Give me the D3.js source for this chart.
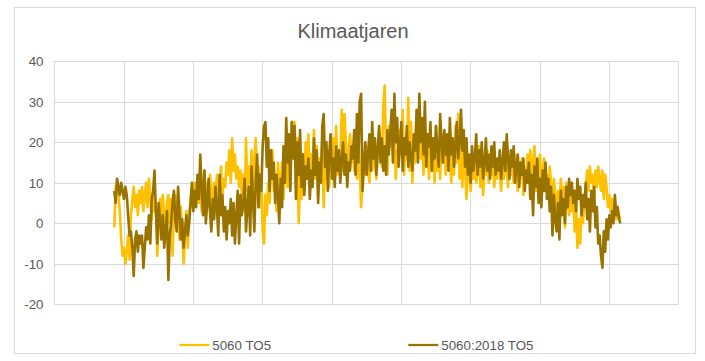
<!DOCTYPE html>
<html>
<head>
<meta charset="utf-8">
<script src="https://cdn.jsdelivr.net/npm/d3@7"></script>
<style>
  body { margin: 0; background: #fff; }
  svg { font-family: "Liberation Sans", Arial, sans-serif; }
</style>
</head>
<body>
<svg id="canvas" width="705" height="361"></svg>
<script>
// daily values, one per day
let seriesNames = ['5060 TO5', '5060:2018 TO5'];
let seriesColors = ['#ffc000', '#997300'];
let yTicks = [-20, -10, 0, 10, 20, 30, 40];
let firstDay = 43.26;

let gold = [
  -1, 9, 10, 7, 3, -4, -8, -6, -10, -7,
  -3, -9, 2, 6, 9, 4, 7, 2, 8, 5,
  9, 3, 7, 10, 4, 11, 6, 1, 8, 3,
  5, -8, 0, 6, -3, 7, 2, -1, 5, 7,
  0, 6, -8, 3, 7, 1, 5, -4, 4, -2,
  -10, -3, 3, -6, 2, 6, 9, 4, 10, 7,
  11, 5, 9, 3, 8, 13, 6, 10, 4, 12,
  8, 2, 10, 6, 12, 5, 9, 14, 7, 11,
  9, 15, 12, 18, 10, 21, 13, 17, 11, 14,
  9, 13, 7, 12, 3, 21, 8, 14, 10, 18,
  5, 16, 21, 9, 14, 4, 12, -2, -5, 7,
  2, 10, 5, 14, 18, 8, 12, 3, 15, 10,
  8, 15, 6, 13, 20, 9, 16, 11, 25, 18,
  25, 14, 21, 0, 12, 6, 17, 8, 20, 13,
  22, 10, 17, 14, 23, 11, 19, 7, 16, 12,
  20, 4, 15, 11, 18, 9, 22, 13, 21, 15,
  24, 12, 18, 15, 28, 13, 27, 20, 12, 18,
  22, 15, 19, 13, 17, 11, 20, 14, 4, 10,
  16, 12, 19, 14, 10, 17, 13, 20, 15, 11,
  18, 23, 20, 14, 29, 34, 17, 12, 24, 19,
  26, 15, 22, 11, 18, 14, 23, 17, 28, 12,
  20, 16, 31, 13, 25, 10, 20, 15, 26, 18,
  24, 16, 21, 12, 23, 15, 19, 11, 22, 14,
  20, 10, 24, 13, 18, 11, 22, 15, 19, 12,
  21, 14, 17, 10, 20, 12, 24, 15, 27, 11,
  26, 9, 18, 14, 6, 16, 12, 8, 15, 11,
  17, 10, 13, 19, 9, 15, 7, 14, 12, 18,
  10, 15, 12, 17, 9, 14, 11, 16, 13, 8,
  15, 11, 18, 13, 9, 16, 12, 14, 10, 17,
  12, 8, 15, 11, 16, 7, 14, 10, 17, 12,
  18, 10, 15, 19, 8, 14, 11, 17, 7, 13,
  16, 9, 12, 6, 14, 10, 4, 11, 7, 2,
  8, 3, 11, 5, 9, -1, 10, 6, 2, 8,
  3, 7, -2, 5, -6, 1, -5, 4, 0, 6,
  9, 13, 8, 14, 10, 12, 7, 13, 9, 14,
  11, 8, 13, 6, 12, 9, 4, 7, 3, 6,
  2, 5, 1, 4, 2, 1
];

let dark = [
  8, 5, 11, 9, 7, 10, 8, 6, 9, 7,
  2, -3, -2, -6, -13, -4, -2, -7, -3, -5,
  -3, -11, -6, -1, -4, 2, -5, 6, 8, 13,
  3, -5, 5, 1, -4, 2, -6, -2, 3, -14,
  -3, 0, 5, 8, 1, -2, 9, 3, -4, 1,
  -6, -2, 2, -3, 0, 5, 10, 3, 8, 4,
  12, 6, 17, 9, 2, 13, 0, 5, 11, 3,
  -2, 6, 1, 9, 4, -3, 12, 2, 7, -2,
  4, -4, 3, 0, 6, -3, 5, -5, 2, 8,
  -5, 7, 2, 5, 11, -2, 4, 9, -3, 14,
  6, -2, 10, 17, 4, 12, 8, 19, 24, 25,
  14, 21, 8, 18, 11, 15, 5, 12, 7, 0,
  11, 4, 19, 10, 26, 15, 22, 8, 25, 16,
  24, 6, 20, 12, 23, 9, 17, 7, 14, 11,
  16, 6, 13, 9, 21, 12, 18, 5, 15, 10,
  24, 27, 14, 20, 8, 17, 22, 11, 16, 9,
  19, 13, 18, 10, 16, 20, 12, 17, 9, 15,
  13, 19, 16, 23, 12, 27, 15, 30, 32, 8,
  14, 20, 12, 17, 22, 13, 25, 16, 21, 12,
  18, 24, 15, 21, 13, 19, 12, 23, 17, 22,
  28, 15, 32, 20, 26, 14, 19, 25, 13, 21,
  17, 24, 14, 20, 16, 13, 22, 18, 28, 15,
  32, 20, 26, 17, 30, 14, 22, 19, 25, 13,
  21, 16, 24, 18, 14, 27, 20, 15, 23, 17,
  22, 13, 26, 17, 21, 14, 19, 25, 16, 20,
  28, 18, 23, 14, 21, 12, 17, 10, 19, 13,
  16, 22, 12, 18, 14, 20, 11, 15, 21, 13,
  17, 11, 19, 14, 20, 12, 16, 13, 18, 11,
  15, 20, 13, 22, 16, 11, 18, 14, 19, 10,
  14, 17, 9, 15, 12, 16, 8, 13, 10, 15,
  6, 12, 2, 14, 9, 16, 5, 11, 4, 13,
  8, 15, 6, 11, 3, 9, -3, 7, 1, -2,
  5, -4, 8, 2, 6, 0, 9, 4, 11, 7,
  10, 5, 8, 3, 11, 6, 9, 2, 7, 4,
  10, 1, 6, -2, 8, 3, 9, -1, 4, -5,
  -3, -8, -11, -2, -7, 1, -4, 2, -1, 3,
  0, 7, 2, 4, 1, 0
];

let canvas = d3.select('#canvas');

// chart border
canvas.append('rect')
      .attr('x', 14.5).attr('y', 7.5)
      .attr('width', 681).attr('height', 346)
      .attr('fill', '#fff')
      .attr('stroke', '#d9d9d9');

canvas.append('text')
      .attr('x', 353).attr('y', 38.3)
      .attr('text-anchor', 'middle')
      .attr('font-size', '20px')
      .attr('fill', '#595959')
      .text('Klimaatjaren');

let xScale = d3.scaleLinear().domain([0, 450]).range([54.3, 678.3]);
let yScale = d3.scaleLinear().domain([-20, 40]).range([304.3, 61.3]);

// horizontal gridlines + labels
canvas.append('g')
      .selectAll('line')
      .data(yTicks)
      .enter()
      .append('line')
      .attr('x1', xScale(0)).attr('x2', xScale(450))
      .attr('y1', d => Math.round(yScale(d)) + 0.5)
      .attr('y2', d => Math.round(yScale(d)) + 0.5)
      .attr('stroke', '#d9d9d9');

canvas.append('g')
      .selectAll('line')
      .data(d3.range(0, 451, 50))
      .enter()
      .append('line')
      .attr('x1', d => Math.round(xScale(d)) + 0.5)
      .attr('x2', d => Math.round(xScale(d)) + 0.5)
      .attr('y1', yScale(40)).attr('y2', yScale(-20))
      .attr('stroke', '#d9d9d9');

canvas.append('g')
      .selectAll('text')
      .data(yTicks)
      .enter()
      .append('text')
      .attr('x', 43.5)
      .attr('y', d => yScale(d) + 4.7)
      .attr('text-anchor', 'end')
      .attr('font-size', '13.33px')
      .attr('fill', '#595959')
      .text(d => d);

let line = d3.line()
             .x((d, i) => xScale(firstDay + i))
             .y(d => yScale(d));

[gold, dark].forEach((values, k) => {
    canvas.append('path')
          .datum(values)
          .attr('d', line)
          .attr('fill', 'none')
          .attr('stroke', seriesColors[k])
          .attr('stroke-width', 2.6)
          .attr('stroke-linejoin', 'round');
});

// legend
let legendX = [179.3, 408.3];
seriesNames.forEach((name, k) => {
    canvas.append('line')
          .attr('x1', legendX[k]).attr('x2', legendX[k] + 30)
          .attr('y1', 345).attr('y2', 345)
          .attr('stroke', seriesColors[k])
          .attr('stroke-width', 2.25);
    canvas.append('text')
          .attr('x', legendX[k] + 33)
          .attr('y', 349.7)
          .attr('font-size', '13.33px')
          .attr('fill', '#595959')
          .text(name);
});
</script>
</body>
</html>
